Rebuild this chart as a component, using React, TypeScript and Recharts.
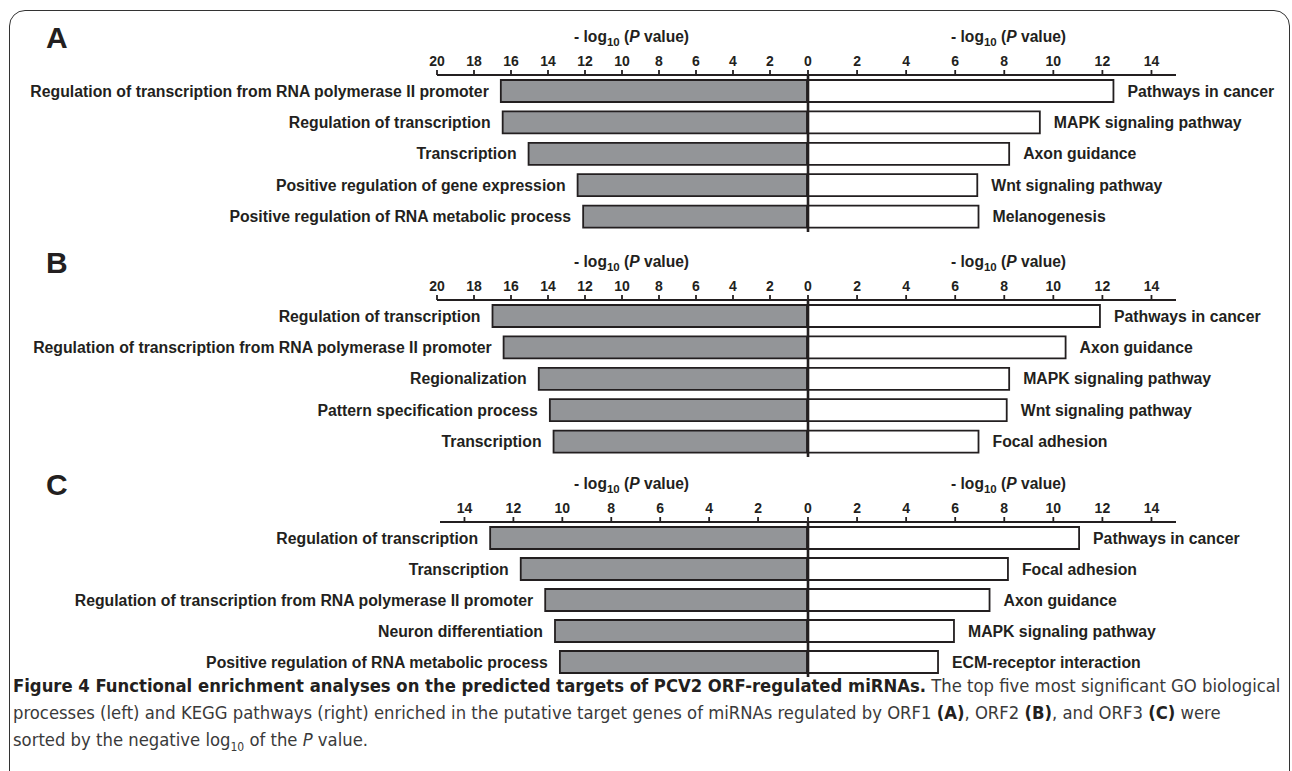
import React from "react";
import { BarChart, Bar, XAxis, YAxis, LabelList, ReferenceLine } from "recharts";

// GO biological processes (left) and KEGG pathways (right), -log10(P value)
const goNamesA = [
  "Regulation of transcription from RNA polymerase II promoter",
  "Regulation of transcription",
  "Transcription",
  "Positive regulation of gene expression",
  "Positive regulation of RNA metabolic process",
];
const goValuesA = [16.55, 16.45, 15.05, 12.4, 12.1];
const keggNamesA = [
  "Pathways in cancer",
  "MAPK signaling pathway",
  "Axon guidance",
  "Wnt signaling pathway",
  "Melanogenesis",
];
const keggValuesA = [12.45, 9.45, 8.2, 6.9, 6.95];

const goNamesB = [
  "Regulation of transcription",
  "Regulation of transcription from RNA polymerase II promoter",
  "Regionalization",
  "Pattern specification process",
  "Transcription",
];
const goValuesB = [17.0, 16.4, 14.5, 13.9, 13.7];
const keggNamesB = [
  "Pathways in cancer",
  "Axon guidance",
  "MAPK signaling pathway",
  "Wnt signaling pathway",
  "Focal adhesion",
];
const keggValuesB = [11.9, 10.5, 8.2, 8.1, 6.95];

const goNamesC = [
  "Regulation of transcription",
  "Transcription",
  "Regulation of transcription from RNA polymerase II promoter",
  "Neuron differentiation",
  "Positive regulation of RNA metabolic process",
];
const goValuesC = [12.95, 11.7, 10.7, 10.3, 10.1];
const keggNamesC = [
  "Pathways in cancer",
  "Focal adhesion",
  "Axon guidance",
  "MAPK signaling pathway",
  "ECM-receptor interaction",
];
const keggValuesC = [11.05, 8.15, 7.4, 5.95, 5.3];

const goTicks20 = [2, 4, 6, 8, 10, 12, 14, 16, 18, 20];
const goTicks15 = [2, 4, 6, 8, 10, 12, 14];
const keggTicks = [0, 2, 4, 6, 8, 10, 12, 14];

const INK = "#231f20";
const FONT = '"Liberation Sans", Arial, Helvetica, sans-serif';
const AXIS_H = 60;

type SideProps = {
  names: string[];
  values: number[];
  side: "left" | "right";
  max: number;
  ticks: number[];
  axisY: number;
  plotLeft: number;
  plotH: number;
};

function AxisTitle({ x, y }: { x: number; y: number }) {
  return (
    <text x={x} y={y} fill={INK} fontFamily={FONT} fontWeight="bold" fontSize={15.6}>
      <tspan>- log</tspan>
      <tspan dy={4} fontSize={11.5}>10</tspan>
      <tspan dy={-4}> (</tspan>
      <tspan fontStyle="italic">P</tspan>
      <tspan>  value)</tspan>
    </text>
  );
}

function Side({ names, values, side, max, ticks, axisY, plotLeft, plotH }: SideProps) {
  const data = names.map((name, i) => ({ name, value: values[i] }));
  const isLeft = side === "left";
  const chartLeft = isLeft ? 0 : 780;
  const width = isLeft ? 807 : 512;
  const plotRight = isLeft ? 807 : 1176;
  const margin = {
    top: 0,
    bottom: 0,
    left: plotLeft - chartLeft,
    right: chartLeft + width - plotRight,
  };

  const renderName = (p: any) => {
    const x = Number(p.x);
    const w = Number(p.width);
    const cy = Number(p.y) + Number(p.height) / 2;
    const lx = isLeft ? Math.min(x, x + w) - 12 : Math.max(x, x + w) + 14;
    return (
      <text
        x={lx}
        y={cy}
        dy="0.36em"
        textAnchor={isLeft ? "end" : "start"}
        fill={INK}
        fontFamily={FONT}
        fontWeight="bold"
        fontSize={15.8}
      >
        {p.value}
      </text>
    );
  };

  const titleX = isLeft ? plotRight - chartLeft - 233 : plotLeft - chartLeft + 143;

  return (
    <div style={{ position: "absolute", left: chartLeft, top: axisY - AXIS_H }}>
      <BarChart
        width={width}
        height={AXIS_H + plotH}
        data={data}
        layout="vertical"
        margin={margin}
        barSize={22}
      >
        <XAxis
          type="number"
          orientation="top"
          domain={[0, max]}
          ticks={ticks}
          reversed={isLeft}
          height={AXIS_H}
          tickSize={5}
          tickMargin={4}
          interval={0}
          axisLine={{ stroke: INK, strokeWidth: 2 }}
          tickLine={{ stroke: INK, strokeWidth: 1.8 }}
          tick={{ fill: INK, fontSize: 14, fontWeight: "bold", fontFamily: FONT }}
          label={{ content: () => <AxisTitle x={titleX} y={AXIS_H - 33} /> }}
        />
        <YAxis type="category" dataKey="name" hide />
        <Bar
          dataKey="value"
          fill={isLeft ? "#939598" : "#ffffff"}
          stroke={INK}
          strokeWidth={1.8}
          isAnimationActive={false}
        >
          <LabelList dataKey="name" content={renderName} />
        </Bar>
        {!isLeft && <ReferenceLine x={0} stroke={INK} strokeWidth={2.6} />}
      </BarChart>
    </div>
  );
}

function Panel(props: {
  letter: string;
  axisY: number;
  plotH: number;
  goNames: string[];
  goValues: number[];
  goMax: number;
  goTicks: number[];
  goLeft: number;
  keggNames: string[];
  keggValues: number[];
}) {
  const { letter, axisY, plotH } = props;
  return (
    <>
      <div
        style={{
          position: "absolute",
          left: 46,
          top: axisY - 52,
          fontFamily: FONT,
          fontWeight: "bold",
          fontSize: 30,
          lineHeight: "30px",
          color: INK,
        }}
      >
        {letter}
      </div>
      <Side
        names={props.goNames}
        values={props.goValues}
        side="left"
        max={props.goMax}
        ticks={props.goTicks}
        axisY={axisY}
        plotLeft={props.goLeft}
        plotH={plotH}
      />
      <Side
        names={props.keggNames}
        values={props.keggValues}
        side="right"
        max={15}
        ticks={keggTicks}
        axisY={axisY}
        plotLeft={808}
        plotH={plotH}
      />
    </>
  );
}

const CAP_FONT = '"Liberation Sans Narrow", "DejaVu Sans Condensed", "Liberation Sans", sans-serif';

export default function App() {
  const line: React.CSSProperties = {
    position: "absolute",
    left: 13,
    whiteSpace: "nowrap",
    fontFamily: CAP_FONT,
    fontSize: 18.3,
    lineHeight: "27px",
    color: "#3a3a3a",
  };
  const strong: React.CSSProperties = { fontWeight: "bold", color: INK };
  return (
    <div style={{ position: "relative", width: 1292, height: 771, overflow: "hidden", background: "#fff" }}>
      <style>{"body{margin:0}"}</style>
      <div
        style={{
          position: "absolute",
          left: 9,
          top: 10,
          width: 1279,
          height: 820,
          border: "1.6px solid #333",
          borderRadius: 16,
        }}
      />
      <Panel
        letter="A"
        axisY={75}
        plotH={157}
        goNames={goNamesA}
        goValues={goValuesA}
        goMax={20}
        goTicks={goTicks20}
        goLeft={437}
        keggNames={keggNamesA}
        keggValues={keggValuesA}
      />
      <Panel
        letter="B"
        axisY={300}
        plotH={157}
        goNames={goNamesB}
        goValues={goValuesB}
        goMax={20}
        goTicks={goTicks20}
        goLeft={437}
        keggNames={keggNamesB}
        keggValues={keggValuesB}
      />
      <Panel
        letter="C"
        axisY={522}
        plotH={155}
        goNames={goNamesC}
        goValues={goValuesC}
        goMax={15}
        goTicks={goTicks15}
        goLeft={440}
        keggNames={keggNamesC}
        keggValues={keggValuesC}
      />
      <div style={{ ...line, top: 672 }}>
        <span style={strong}>
          Figure 4 Functional enrichment analyses on the predicted targets of PCV2 ORF-regulated miRNAs.
        </span>{" "}
        The top five most significant GO biological
      </div>
      <div style={{ ...line, top: 699 }}>
        processes (left) and KEGG pathways (right) enriched in the putative target genes of miRNAs regulated by ORF1{" "}
        <span style={strong}>(A)</span>, ORF2 <span style={strong}>(B)</span>, and ORF3{" "}
        <span style={strong}>(C)</span> were
      </div>
      <div style={{ ...line, top: 726 }}>
        sorted by the negative log<sub style={{ fontSize: 12, lineHeight: 0 }}>10</sub> of the <i>P</i> value.
      </div>
    </div>
  );
}
